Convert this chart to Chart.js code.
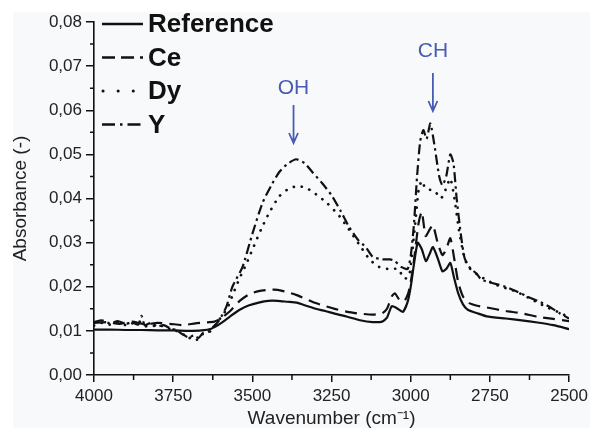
<!DOCTYPE html>
<html><head><meta charset="utf-8">
<script src="https://cdn.jsdelivr.net/npm/chart.js@4.4.1/dist/chart.umd.min.js"></script>
<style>html,body{margin:0;padding:0;background:#fff}#wrap{width:592px;height:428px}</style>
</head><body><div id="wrap"><canvas id="c" width="592" height="428"></canvas></div>
<script>
// ---- data (wavenumber in cm-1, absorbance) ----
const seriesLabels = ['Reference', 'Ce', 'Dy', 'Y'];
const xTickValues = [4000, 3750, 3500, 3250, 3000, 2750, 2500];
const yTickValues = [0, 0.01, 0.02, 0.03, 0.04, 0.05, 0.06, 0.07, 0.08];

const refWn  = [4000,3950,3900,3850,3800,3750,3700,3660,3630,3600,3570,3540,3510,3480,3450,3420,3390,3360,3330,3300,3270,3240,3200,3160,3120,3090,3075,3060,3045,3025,3010,3000,2990,2978,2965,2952,2940,2930,2915,2900,2888,2875,2863,2850,2835,2820,2790,2760,2700,2650,2600,2550,2500];
const refAbs = [0.0103,0.0103,0.0102,0.0102,0.0101,0.0101,0.0100,0.0101,0.0105,0.0117,0.0133,0.0148,0.0158,0.0164,0.0168,0.0168,0.0166,0.0164,0.0157,0.0150,0.0145,0.0139,0.0132,0.0124,0.0120,0.0121,0.0130,0.0156,0.0152,0.0143,0.0165,0.0200,0.0250,0.0300,0.0285,0.0258,0.0275,0.0290,0.0265,0.0235,0.0240,0.0254,0.0220,0.0185,0.0160,0.0148,0.0140,0.0133,0.0128,0.0124,0.0119,0.0113,0.0104];

const ceWn  = [4000,3960,3920,3880,3840,3800,3760,3720,3680,3650,3620,3600,3570,3540,3510,3480,3450,3420,3390,3360,3330,3300,3270,3240,3200,3160,3120,3090,3075,3060,3050,3035,3020,3008,3000,2988,2975,2965,2953,2940,2930,2915,2900,2888,2875,2863,2850,2835,2815,2790,2760,2700,2650,2600,2550,2500];
const ceAbs = [0.0118,0.0120,0.0116,0.0121,0.0115,0.0118,0.0116,0.0113,0.0117,0.0119,0.0121,0.0128,0.0145,0.0168,0.0183,0.0190,0.0193,0.0193,0.0188,0.0181,0.0172,0.0163,0.0156,0.0150,0.0143,0.0139,0.0137,0.0140,0.0150,0.0178,0.0185,0.0170,0.0168,0.0185,0.0210,0.0270,0.0345,0.0370,0.0315,0.0330,0.0340,0.0300,0.0272,0.0285,0.0310,0.0265,0.0210,0.0178,0.0163,0.0157,0.0153,0.0145,0.0140,0.0132,0.0127,0.0122];

const dyWn  = [4000,3975,3950,3920,3900,3880,3860,3840,3820,3800,3780,3760,3740,3720,3705,3690,3675,3660,3640,3625,3610,3595,3580,3560,3540,3520,3500,3470,3445,3415,3390,3360,3330,3300,3265,3225,3195,3160,3130,3100,3070,3040,3020,3005,2995,2985,2975,2965,2955,2940,2925,2905,2890,2875,2862,2848,2832,2818,2790,2760,2733,2700,2670,2620,2575,2525,2500];
const dyAbs = [0.0112,0.0118,0.0114,0.0120,0.0113,0.0117,0.0122,0.0110,0.0114,0.0108,0.0112,0.0104,0.0100,0.0094,0.0082,0.0086,0.0080,0.0092,0.0095,0.0105,0.0120,0.0135,0.0150,0.0185,0.0220,0.0250,0.0284,0.0334,0.0370,0.0405,0.0420,0.0428,0.0424,0.0410,0.0390,0.0360,0.0330,0.0293,0.0262,0.0245,0.0240,0.0240,0.0218,0.0225,0.0280,0.0350,0.0420,0.0440,0.0425,0.0420,0.0418,0.0400,0.0420,0.0445,0.0400,0.0330,0.0270,0.0245,0.0228,0.0215,0.0205,0.0197,0.0190,0.0172,0.0155,0.0140,0.0130];

const yWn  = [4000,3975,3950,3925,3900,3880,3860,3850,3840,3820,3800,3780,3760,3740,3720,3700,3685,3670,3655,3640,3625,3604,3582,3563,3531,3500,3468,3440,3415,3390,3362,3335,3311,3280,3248,3220,3195,3165,3142,3120,3090,3065,3050,3030,3010,3000,2990,2980,2970,2960,2950,2938,2925,2910,2900,2888,2875,2865,2855,2842,2830,2815,2790,2777,2740,2701,2665,2629,2590,2556,2530,2500];
const yAbs = [0.0120,0.0124,0.0117,0.0122,0.0116,0.0119,0.0114,0.0134,0.0113,0.0118,0.0110,0.0113,0.0106,0.0102,0.0092,0.0085,0.0090,0.0084,0.0096,0.0098,0.0108,0.0125,0.0155,0.0200,0.0245,0.0320,0.0390,0.0430,0.0460,0.0478,0.0489,0.0480,0.0460,0.0435,0.0405,0.0370,0.0336,0.0305,0.0290,0.0268,0.0262,0.0262,0.0258,0.0245,0.0240,0.0270,0.0340,0.0450,0.0530,0.0555,0.0535,0.0570,0.0520,0.0450,0.0430,0.0450,0.0500,0.0480,0.0400,0.0320,0.0265,0.0245,0.0228,0.0216,0.0208,0.0200,0.0189,0.0177,0.0165,0.0152,0.0140,0.0128];

const annotations = [
  {text: 'OH', wn: 3370, textY: 88, arrowTop: 105, arrowBottom: 143},
  {text: 'CH', wn: 2930, textY: 51, arrowTop: 73, arrowBottom: 111}
];

// ---- build ----
const pts = (xs, ys) => xs.map((x, i) => ({x: x, y: ys[i]}));
const styles = [
  {dash: [], cap: 'butt', lw: 2.2, legendDash: [], legendCap: 'butt'},
  {dash: [12, 7], cap: 'butt', lw: 2.2, legendDash: [13, 6], legendCap: 'butt'},
  {dash: [0.1, 8], cap: 'round', lw: 2.7, legendDash: [0.1, 15], legendCap: 'round'},
  {dash: [10, 4, 2.5, 4], cap: 'butt', lw: 2.2, legendDash: [13, 5, 2.5, 5], legendCap: 'butt'}
];
const seriesData = [pts(refWn, refAbs), pts(ceWn, ceAbs), pts(dyWn, dyAbs), pts(yWn, yAbs)];

const FONT = '"Liberation Sans", Arial, Helvetica, sans-serif';

const bgPlugin = {
  id: 'bg',
  beforeDraw(chart) {
    const ctx = chart.ctx;
    ctx.save();
    ctx.fillStyle = '#ffffff';
    ctx.fillRect(0, 0, chart.width, chart.height);
    ctx.fillStyle = '#f8f9fb';
    ctx.fillRect(13, 12, chart.width - 15, chart.height - 12);
    ctx.restore();
  }
};

const minorTicks = {
  id: 'minorTicks',
  afterDraw(chart) {
    const ctx = chart.ctx, xs = chart.scales.x, ys = chart.scales.y;
    const area = chart.chartArea;
    ctx.save();
    ctx.strokeStyle = '#111';
    ctx.lineWidth = 1.5;
    ctx.beginPath();
    for (let i = 0; i < yTickValues.length - 1; i++) {
      const v = (yTickValues[i] + yTickValues[i + 1]) / 2;
      const p = ys.getPixelForValue(v);
      ctx.moveTo(area.left - 4, p); ctx.lineTo(area.left, p);
    }
    for (let i = 0; i < xTickValues.length - 1; i++) {
      const v = (xTickValues[i] + xTickValues[i + 1]) / 2;
      const p = xs.getPixelForValue(v);
      ctx.moveTo(p, area.bottom); ctx.lineTo(p, area.bottom + 5);
    }
    ctx.stroke();
    ctx.restore();
  }
};

const legendPlugin = {
  id: 'customLegend',
  afterDraw(chart) {
    const ctx = chart.ctx;
    chart.data.datasets.forEach((ds, i) => {
      const st = styles[i];
      const y = 24 + i * 33.5;
      ctx.save();
      ctx.strokeStyle = '#111';
      ctx.lineWidth = i === 2 ? 3 : 2.4;
      ctx.lineCap = st.legendCap;
      ctx.setLineDash(st.legendDash);
      ctx.beginPath();
      ctx.moveTo(i === 2 ? 103 : 102, y);
      ctx.lineTo(143, y);
      ctx.stroke();
      ctx.setLineDash([]);
      ctx.fillStyle = '#111';
      ctx.font = 'bold 26px ' + FONT;
      ctx.textBaseline = 'middle';
      ctx.textAlign = 'left';
      ctx.fillText(ds.label, 148, y + 1);
      ctx.restore();
    });
  }
};

const annotPlugin = {
  id: 'annot',
  afterDraw(chart) {
    const ctx = chart.ctx, xs = chart.scales.x;
    annotations.forEach(a => {
      const x = xs.getPixelForValue(a.wn);
      ctx.save();
      ctx.fillStyle = '#4a5bb3';
      ctx.strokeStyle = '#4a5bb3';
      ctx.font = '21px ' + FONT;
      ctx.textAlign = 'center';
      ctx.textBaseline = 'middle';
      ctx.fillText(a.text, x, a.textY);
      ctx.lineWidth = 1.8;
      ctx.beginPath();
      ctx.moveTo(x, a.arrowTop); ctx.lineTo(x, a.arrowBottom);
      ctx.moveTo(x - 4.5, a.arrowBottom - 10); ctx.lineTo(x, a.arrowBottom); ctx.lineTo(x + 4.5, a.arrowBottom - 10);
      ctx.stroke();
      ctx.restore();
    });
  }
};

new Chart(document.getElementById('c'), {
  type: 'line',
  data: {
    datasets: seriesLabels.map((lab, i) => ({
      label: lab,
      data: seriesData[i],
      borderColor: '#111',
      borderWidth: styles[i].lw,
      borderDash: styles[i].dash,
      borderCapStyle: styles[i].cap,
      pointRadius: 0,
      fill: false,
      tension: 0.2
    }))
  },
  options: {
    responsive: false,
    animation: false,
    devicePixelRatio: 1,
    layout: {padding: {left: 0, right: 21, top: 22, bottom: 0}},
    plugins: {legend: {display: false}, tooltip: {enabled: false}},
    scales: {
      x: {
        type: 'linear', reverse: true, min: 2500, max: 4000,
        afterFit: s => { s.height = 53; },
        afterBuildTicks: s => { s.ticks = xTickValues.map(v => ({value: v})); },
        ticks: {color: '#222', font: {family: FONT, size: 17}, padding: 4, maxRotation: 0,
                callback: v => String(v)},
        grid: {drawOnChartArea: false, drawTicks: true, tickLength: 7, color: '#111', lineWidth: 1.5},
        border: {display: true, color: '#111', width: 1.6},
        title: {display: true, text: 'Wavenumber (cm\u207B\u00B9)', color: '#222',
                font: {family: FONT, size: 19, lineHeight: 1}, padding: {top: 0, bottom: 0}}
      },
      y: {
        type: 'linear', min: 0, max: 0.08,
        afterFit: s => { s.width = 94; },
        afterBuildTicks: s => { s.ticks = yTickValues.map(v => ({value: v})); },
        ticks: {color: '#222', font: {family: FONT, size: 17}, padding: 4,
                callback: v => v.toFixed(2).replace('.', ',')},
        grid: {drawOnChartArea: false, drawTicks: true, tickLength: 8, color: '#111', lineWidth: 1.5},
        border: {display: true, color: '#111', width: 1.6},
        title: {display: true, text: 'Absorbance (-)', color: '#222',
                font: {family: FONT, size: 19, lineHeight: 1}, padding: {top: 11, bottom: 0}}
      }
    }
  },
  plugins: [bgPlugin, minorTicks, legendPlugin, annotPlugin]
});
</script>
</body></html>
